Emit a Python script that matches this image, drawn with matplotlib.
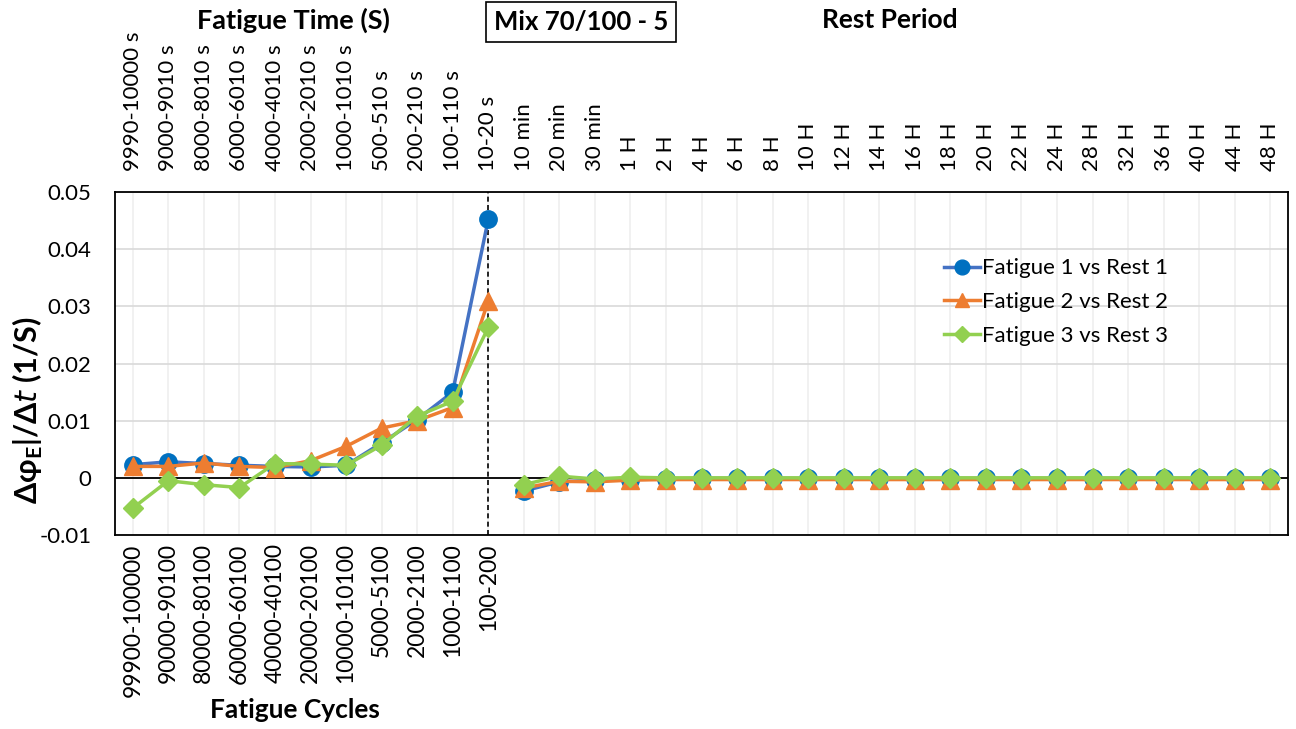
import matplotlib
matplotlib.use("Agg")
import matplotlib.pyplot as plt
from matplotlib.lines import Line2D

plt.rcParams['font.family'] = ['Lato', 'DejaVu Sans']

top_labels = ["9990-10000 s", "9000-9010 s", "8000-8010 s", "6000-6010 s", "4000-4010 s",
              "2000-2010 s", "1000-1010 s", "500-510 s", "200-210 s", "100-110 s", "10-20 s",
              "10 min", "20 min", "30 min", "1 H", "2 H", "4 H", "6 H", "8 H", "10 H", "12 H",
              "14 H", "16 H", "18 H", "20 H", "22 H", "24 H", "28 H", "32 H", "36 H", "40 H",
              "44 H", "48 H"]
bottom_labels = ["99900-100000", "90000-90100", "80000-80100", "60000-60100", "40000-40100",
                 "20000-20100", "10000-10100", "5000-5100", "2000-2100", "1000-1100", "100-200"]

fatigue1 = [0.0023, 0.0028, 0.0025, 0.0022, 0.0020, 0.0019, 0.0022, 0.0061, 0.0102, 0.0150, 0.0452]
rest1 = [-0.0023, -0.0007, -0.0004, -0.0003, -0.0002, -0.0001, -0.0001, -0.0001, -0.0001, -0.0001,
         -0.0001, -0.0001, -0.0001, -0.0001, -0.0001, -0.0001, -0.0001, -0.0001, -0.0001, -0.0001,
         -0.0001, -0.0001]
fatigue2 = [0.0020, 0.0020, 0.0026, 0.0020, 0.0018, 0.0030, 0.0055, 0.0087, 0.0100, 0.0123, 0.0309]
rest2 = [-0.0018, -0.0006, -0.0007, -0.0004, -0.0003, -0.0003, -0.0003, -0.0003, -0.0003, -0.0003,
         -0.0003, -0.0003, -0.0003, -0.0003, -0.0003, -0.0003, -0.0003, -0.0003, -0.0003, -0.0003,
         -0.0003, -0.0003]
fatigue3 = [-0.0053, -0.0005, -0.0012, -0.0017, 0.0025, 0.0024, 0.0022, 0.0057, 0.0108, 0.0134, 0.0263]
rest3 = [-0.0012, 0.0003, -0.0002, 0.0001, 0.0000, 0.0000, 0.0000, 0.0000, 0.0000, 0.0000,
         0.0000, 0.0000, 0.0000, 0.0000, 0.0000, 0.0000, 0.0000, 0.0000, 0.0000, 0.0000,
         0.0000, 0.0000]

series = [
    ("Fatigue 1 vs Rest 1", fatigue1, rest1, "#4472C4", "#0070C0", "o", 12.5),
    ("Fatigue 2 vs Rest 2", fatigue2, rest2, "#ED7D31", "#ED7D31", "^", 12.5),
    ("Fatigue 3 vs Rest 3", fatigue3, rest3, "#92D050", "#92D050", "D", 10),
]

fig = plt.figure(figsize=(12.96, 7.29), dpi=100)
ax = fig.add_axes([115/1296, (729-535)/729, (1288-115)/1296, (535-192)/729])

n_f = len(fatigue1)
xs_f = list(range(n_f))
xs_r = list(range(n_f, n_f + len(rest1)))

handles = []
for i, (name, fv, rv, lc, mc, mk, ms) in enumerate(series):
    ax.plot(xs_f, fv, color=lc, lw=2.5, marker=mk, ms=ms, mfc=mc, mec=mc, zorder=3+i)
    ax.plot(xs_r, rv, color=lc, lw=2.5, marker=mk, ms=ms, mfc=mc, mec=mc, zorder=3+i)
    handles.append(Line2D([0], [0], color=lc, lw=2.5, marker=mk, ms=ms*0.85, mfc=mc, mec=mc))

ax.set_xlim(-0.5, len(top_labels) - 0.5)
ax.set_ylim(-0.01, 0.05)
ax.set_yticks([-0.01, 0, 0.01, 0.02, 0.03, 0.04, 0.05])
ax.set_yticklabels(["-0.01", "0", "0.01", "0.02", "0.03", "0.04", "0.05"])
ax.yaxis.grid(True, color="#D9D9D9", lw=1.2, zorder=0)
ax.set_axisbelow(True)
for x in range(len(top_labels)):
    ax.axvline(x, color="#EFEFEF", lw=1.2, zorder=0)
ax.axhline(0, color="black", lw=1.3, zorder=2)
ax.axvline(n_f - 1, color="black", lw=1.2, ls=(0, (3, 2)), zorder=2)

ax.set_xticks(range(len(bottom_labels)))
ax.set_xticklabels(bottom_labels, rotation=90, fontsize=16.5)
ax.tick_params(axis="x", length=0, pad=6)
ax.tick_params(axis="y", length=0, pad=17, labelsize=16)
for s in ax.spines.values():
    s.set_color("black")
    s.set_linewidth(1.3)

ax2 = ax.twiny()
ax2.set_xlim(ax.get_xlim())
ax2.set_xticks(range(len(top_labels)))
ax2.set_xticklabels(top_labels, rotation=90, fontsize=16)
ax2.tick_params(axis="x", length=0, pad=15)
for s in ax2.spines.values():
    s.set_visible(False)

ax.set_ylabel("Δφ$_\\mathregular{E}$|/Δ$\\mathit{t}$ (1/S)", fontsize=22, fontweight="bold")
ax.yaxis.set_label_coords(-0.06, 0.364)

leg = ax.legend(handles, [s[0] for s in series], loc="upper left",
                bbox_to_anchor=(0.69, 0.865), frameon=False, fontsize=16,
                handlelength=1.6, handletextpad=0.1, labelspacing=0.62)

fig.text(293/1296, 1 - 20/729, "Fatigue Time (S)", ha="center", va="center",
         fontsize=19.5, fontweight="bold")
fig.text(581/1296, 1 - 22/729, "Mix 70/100 - 5", ha="center", va="center",
         fontsize=18.5, fontweight="bold",
         bbox=dict(boxstyle="square,pad=0.3", fc="white", ec="black", lw=1.2))
fig.text(890/1296, 1 - 20/729, "Rest Period", ha="center", va="center",
         fontsize=19, fontweight="bold")
fig.text(295/1296, 1 - 710/729, "Fatigue Cycles", ha="center", va="center",
         fontsize=19, fontweight="bold")

fig.savefig("out.png", dpi=100)
